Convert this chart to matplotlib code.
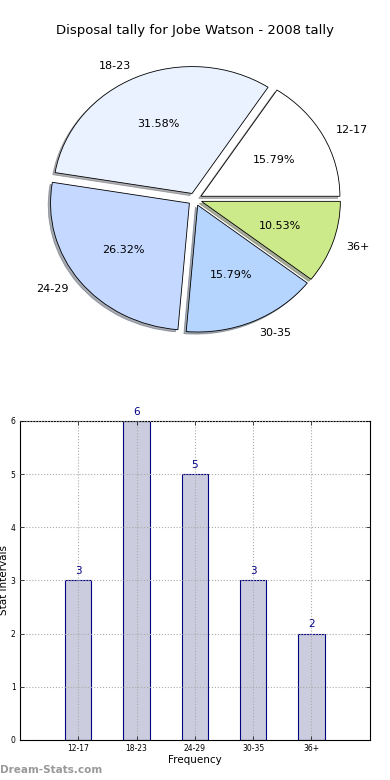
import numpy as np
import matplotlib
matplotlib.use("Agg")
import matplotlib.pyplot as plt

# data
groups = ["12-17", "18-23", "24-29", "30-35", "36+"]
counts = [3, 6, 5, 3, 2]
pie_colors = ["#ffffff", "#eaf1ff", "#c5d8ff", "#b5d5ff", "#cdea8a"]
yticks = [0, 1, 2, 3, 4, 5, 6]

fig = plt.figure(figsize=(3.9, 7.8), dpi=100)

# pie chart on top
ax1 = fig.add_axes([0.0367, 0.533, 0.926, 0.423])
explode = [0.05] * len(counts)
wedges, texts, autotexts = ax1.pie(counts, labels=groups, colors=pie_colors,
                                   explode=explode, autopct="%1.2f%%",
                                   shadow=dict(ox=-0.012, oy=-0.012, shade=0.6),
                                   wedgeprops=dict(edgecolor="black", linewidth=0.6),
                                   textprops=dict(fontsize=8))
ax1.set_aspect("auto")
ax1.set_xlim(-1.3, 1.3)
ax1.set_ylim(-1.3, 1.3)
fig.text(0.5, 0.961, "Disposal tally for Jobe Watson - 2008 tally",
         ha="center", va="center", fontsize=9.5)

# bar chart below
ax2 = fig.add_axes([0.051, 0.0513, 0.897, 0.409])
x = np.arange(len(groups))
bars = ax2.bar(x, counts, width=0.45, color="#ccccdf", edgecolor="#000080",
               linewidth=0.8, zorder=2)
for xi, c in zip(x, counts):
    ax2.text(xi, c + 0.08, str(c), ha="center", va="bottom", color="#000080", fontsize=7.5)
ax2.set_xlim(-1, 5)
ax2.set_ylim(0, 6)
ax2.set_xticks(x)
ax2.set_xticklabels(groups, fontsize=5.5)
ax2.set_yticks(yticks)
ax2.set_yticklabels([str(t) for t in yticks], fontsize=5.5)
ax2.tick_params(direction="in", top=True, right=True, length=3, width=0.5, pad=3)
ax2.grid(True, linestyle=":", color="#aaaaaa", linewidth=0.8, zorder=3)
ax2.set_axisbelow(False)
for s in ax2.spines.values():
    s.set_linewidth(0.8)
ax2.set_xlabel("Frequency", fontsize=7.5, labelpad=1)
ax2.set_ylabel("Stat intervals", fontsize=7.5, labelpad=2)
ax2.yaxis.set_label_coords(-0.03, 0.5)

fig.text(0.0, 0.013, "Dream-Stats.com", fontsize=7.5, color="#999999",
         fontweight="bold", ha="left", va="center")

fig.savefig("out.png", dpi=100)
